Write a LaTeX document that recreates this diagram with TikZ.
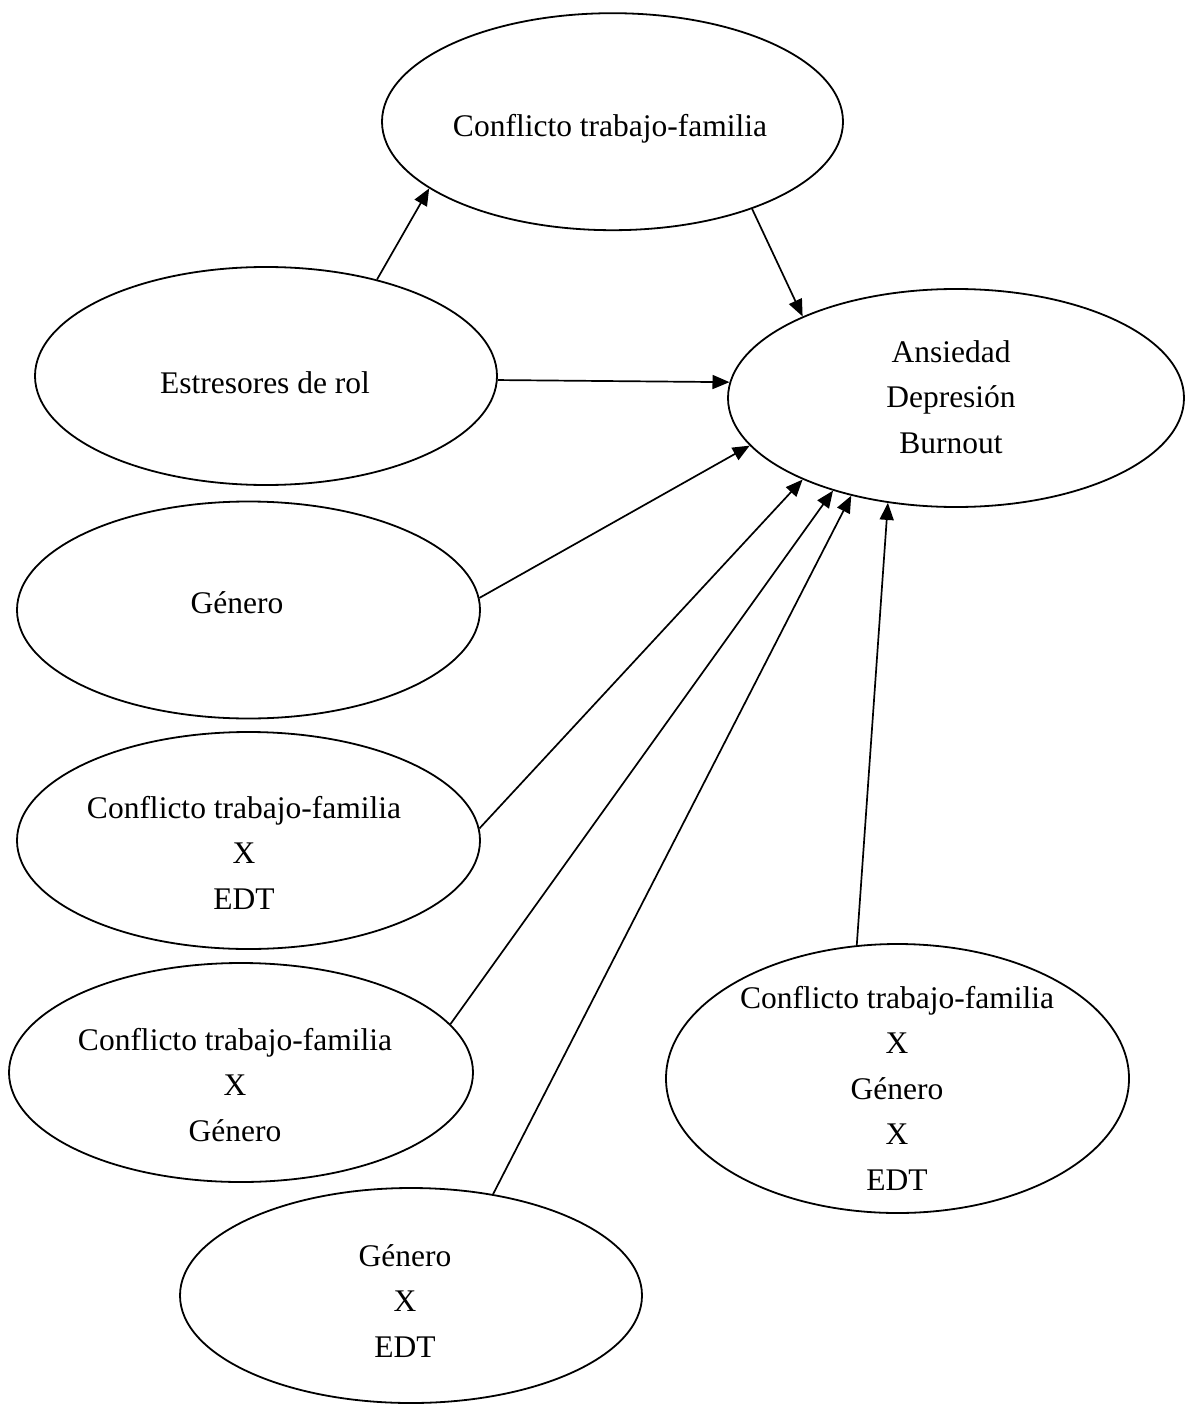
\documentclass[tikz,border=0pt]{standalone}
\usepackage{fontspec}
\setmainfont{Liberation Serif}
\usetikzlibrary{shapes.geometric,arrows.meta}
% centred multi-line label whose baseline is that of its first line
\newcommand{\stacklines}[1]{\begin{tabular}[t]{@{}c@{}}#1\end{tabular}}
\begin{document}
\begin{tikzpicture}[x=1pt,y=-1pt,
  oval/.style={draw, ellipse, line width=1.8pt, inner sep=0pt},
  lbl/.style={inner sep=0pt, anchor=base, font=\fontsize{31.5}{45.5}\selectfont},
  link/.style={line width=1.7pt, -{Triangle[length=17pt,width=14pt]}}]
\useasboundingbox (0,0) rectangle (1185,1404);

% variables
\node[oval, minimum width=461pt, minimum height=217pt] (ctf)  at (612.5,121.7) {};
\node[oval, minimum width=462pt, minimum height=218pt] (rol)  at (266,376) {};
\node[oval, minimum width=456pt, minimum height=218pt] (out)  at (956,398) {};
\node[oval, minimum width=463pt, minimum height=217pt] (gen)  at (248.5,610) {};
\node[oval, minimum width=463pt, minimum height=217pt] (ce)   at (248.5,840.5) {};
\node[oval, minimum width=464pt, minimum height=219pt] (cg)   at (241,1072.5) {};
\node[oval, minimum width=463pt, minimum height=269pt] (cge)  at (897.5,1078.5) {};
\node[oval, minimum width=462pt, minimum height=215pt] (ge)   at (411,1295.5) {};

% labels
\node[lbl] (ctf-t) at (610,137)  {Conflicto trabajo-familia};
\node[lbl] (rol-t) at (265,393)  {Estresores de rol};
\node[lbl] (out-t) at (951,362)  {\stacklines{Ansiedad\\Depresión\\Burnout}};
\node[lbl] (gen-t) at (237,613)  {Género};
\node[lbl] (ce-t)  at (244,818)  {\stacklines{Conflicto trabajo-familia\\X\\EDT}};
\node[lbl] (cg-t)  at (235,1050) {\stacklines{Conflicto trabajo-familia\\X\\Género}};
\node[lbl] (cge-t) at (897,1008) {\stacklines{Conflicto trabajo-familia\\X\\Género\\X\\EDT}};
\node[lbl] (ge-t)  at (405,1266) {\stacklines{Género\\X\\EDT}};

% paths
\draw[link] (rol.41.7)  -- (ctf.200.3);
\draw[link] (ctf.-32.8) -- (out.152.7);
\draw[link] (rol.-1)    -- (out.176);
\draw[link] (gen.3.2)   -- (out.193.4);
\draw[link] (ce.3.9)    -- (out.208);
\draw[link] (cg.13.1)   -- (out.217.4);
\draw[link] (ge.51.3)   -- (out.223.6);
\draw[link] (cge.107.9) -- (out.237.8);
\end{tikzpicture}
\end{document}
